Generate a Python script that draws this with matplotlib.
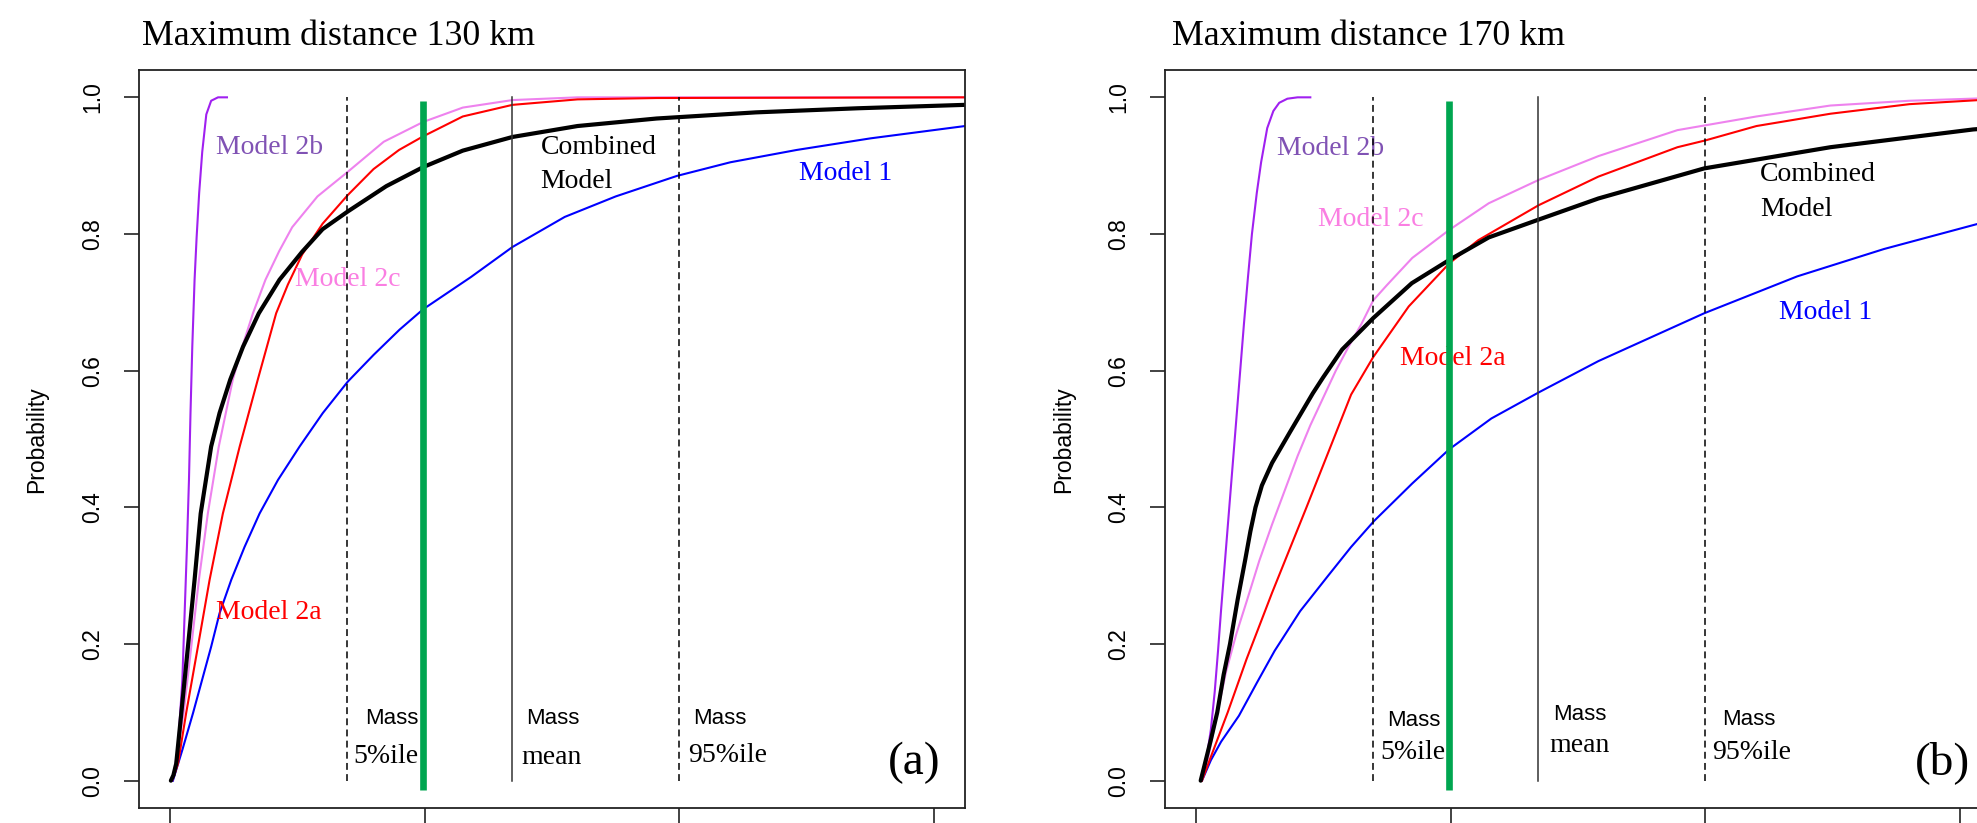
import matplotlib
matplotlib.use("Agg")
import matplotlib.pyplot as plt

# ---------------- data ----------------
titles = ["Maximum distance 130 km", "Maximum distance 170 km"]
panel_tags = ["(a)", "(b)"]
x_ticks = [0, 1, 2, 3]
y_ticks = [0.0, 0.2, 0.4, 0.6, 0.8, 1.0]
y_tick_labels = ["0.0", "0.2", "0.4", "0.6", "0.8", "1.0"]

mass_p05 = 0.697
mass_mean = 1.345
mass_p95 = 2.0
green_x = 0.995

# Panel (a): 130 km
a_m1_x = [0.013, 0.05, 0.092, 0.163, 0.196, 0.242, 0.294, 0.353, 0.425, 0.51, 0.601, 0.699, 0.80, 0.902, 0.995, 1.182, 1.345, 1.55, 1.75, 1.99, 2.2, 2.46, 2.75, 3.12]
a_m1_y = [0.0, 0.045, 0.099, 0.196, 0.245, 0.294, 0.342, 0.391, 0.44, 0.489, 0.538, 0.584, 0.623, 0.66, 0.69, 0.737, 0.781, 0.825, 0.855, 0.885, 0.905, 0.923, 0.94, 0.958]

a_m2a_x = [0.01, 0.02, 0.033, 0.065, 0.111, 0.157, 0.209, 0.275, 0.346, 0.418, 0.464, 0.52, 0.6, 0.699, 0.8, 0.9, 0.995, 1.15, 1.345, 1.6, 1.91, 3.12]
a_m2a_y = [0.0, 0.01, 0.025, 0.099, 0.196, 0.294, 0.391, 0.489, 0.587, 0.684, 0.726, 0.77, 0.815, 0.857, 0.895, 0.923, 0.943, 0.972, 0.989, 0.997, 0.999, 1.0]

a_m2b_x = [0.01, 0.025, 0.033, 0.05, 0.059, 0.068, 0.076, 0.082, 0.089, 0.098, 0.106, 0.116, 0.128, 0.144, 0.163, 0.19, 0.225]
a_m2b_y = [0.0, 0.02, 0.05, 0.147, 0.245, 0.342, 0.44, 0.538, 0.635, 0.733, 0.795, 0.86, 0.92, 0.975, 0.995, 1.0, 1.0]

a_m2c_x = [0.01, 0.025, 0.04, 0.055, 0.085, 0.115, 0.15, 0.193, 0.248, 0.285, 0.327, 0.376, 0.43, 0.481, 0.58, 0.699, 0.84, 0.995, 1.15, 1.345, 1.6, 3.12]
a_m2c_y = [0.0, 0.03, 0.065, 0.099, 0.196, 0.294, 0.391, 0.489, 0.587, 0.635, 0.684, 0.733, 0.775, 0.81, 0.855, 0.891, 0.935, 0.964, 0.985, 0.996, 1.0, 1.0]

a_comb_x = [0.005, 0.015, 0.026, 0.046, 0.072, 0.098, 0.122, 0.163, 0.196, 0.238, 0.288, 0.35, 0.431, 0.52, 0.6, 0.699, 0.85, 0.995, 1.15, 1.345, 1.6, 1.91, 2.3, 2.7, 3.12]
a_comb_y = [0.0, 0.008, 0.025, 0.099, 0.196, 0.294, 0.391, 0.489, 0.538, 0.587, 0.635, 0.684, 0.733, 0.774, 0.807, 0.833, 0.87, 0.898, 0.922, 0.942, 0.958, 0.969, 0.978, 0.984, 0.989]

# Panel (b): 170 km
b_m1_x = [0.025, 0.06, 0.10, 0.17, 0.24, 0.31, 0.41, 0.52, 0.61, 0.70, 0.85, 0.995, 1.16, 1.345, 1.58, 1.995, 2.36, 2.7, 3.05, 3.12]
b_m1_y = [0.0, 0.03, 0.057, 0.095, 0.143, 0.19, 0.248, 0.3, 0.342, 0.38, 0.435, 0.485, 0.53, 0.568, 0.614, 0.684, 0.738, 0.778, 0.813, 0.82]

b_m2a_x = [0.025, 0.06, 0.126, 0.2, 0.3, 0.435, 0.52, 0.61, 0.697, 0.836, 0.995, 1.109, 1.345, 1.58, 1.89, 2.0, 2.2, 2.49, 2.8, 3.12]
b_m2a_y = [0.0, 0.035, 0.1, 0.178, 0.275, 0.40, 0.48, 0.565, 0.62, 0.694, 0.757, 0.791, 0.842, 0.884, 0.927, 0.937, 0.958, 0.976, 0.99, 0.997]

b_m2b_x = [0.022, 0.04, 0.06, 0.075, 0.088, 0.10, 0.115, 0.13, 0.145, 0.16, 0.175, 0.19, 0.205, 0.221, 0.24, 0.257, 0.281, 0.305, 0.328, 0.36, 0.40, 0.45]
b_m2b_y = [0.0, 0.025, 0.075, 0.13, 0.19, 0.25, 0.32, 0.39, 0.46, 0.53, 0.6, 0.67, 0.735, 0.8, 0.86, 0.905, 0.955, 0.98, 0.992, 0.998, 1.0, 1.0]

b_m2c_x = [0.025, 0.05, 0.08, 0.12, 0.16, 0.2, 0.25, 0.3, 0.35, 0.4, 0.45, 0.5, 0.55, 0.6, 0.65, 0.697, 0.75, 0.85, 0.995, 1.15, 1.345, 1.58, 1.89, 2.2, 2.49, 2.8, 3.12]
b_m2c_y = [0.0, 0.035, 0.09, 0.16, 0.215, 0.262, 0.322, 0.375, 0.425, 0.475, 0.52, 0.56, 0.6, 0.635, 0.668, 0.703, 0.725, 0.765, 0.806, 0.845, 0.879, 0.914, 0.952, 0.972, 0.988, 0.995, 0.999]

b_comb_x = [0.02, 0.04, 0.06, 0.085, 0.11, 0.135, 0.165, 0.195, 0.215, 0.235, 0.26, 0.3, 0.37, 0.46, 0.5, 0.575, 0.697, 0.848, 0.995, 1.15, 1.345, 1.58, 1.995, 2.49, 3.05, 3.12]
b_comb_y = [0.0, 0.03, 0.06, 0.1, 0.155, 0.2, 0.265, 0.324, 0.365, 0.4, 0.432, 0.465, 0.51, 0.567, 0.59, 0.631, 0.677, 0.728, 0.762, 0.795, 0.821, 0.852, 0.896, 0.927, 0.953, 0.955]

# label anchors (data coords, left edge / baseline)
a_labels = [("Model 2b", 0.183, 0.917), ("Model 2c", 0.49, 0.724), ("Model 2a", 0.183, 0.236),
            ("Model 1", 2.47, 0.879), ("Combined", 1.455, 0.917), ("Model", 1.455, 0.867)]
b_labels = [("Model 2b", 0.32, 0.916), ("Model 2c", 0.48, 0.812), ("Model 2a", 0.80, 0.609),
            ("Model 1", 2.29, 0.676), ("Combined", 2.215, 0.877), ("Model", 2.215, 0.826)]
label_colors = {"Model 2b": "#8052B4", "Model 2c": "#FA7EE2", "Model 2a": "#FF0000",
                "Model 1": "#0000FF", "Combined": "#000000", "Model": "#000000"}

a_mass = [(0.871, 0.083, 0.85, 0.026, "5%ile"), (1.503, 0.083, 1.50, 0.025, "mean"), (2.16, 0.083, 2.19, 0.027, "95%ile")]
b_mass = [(0.855, 0.080, 0.852, 0.032, "5%ile"), (1.507, 0.089, 1.507, 0.042, "mean"), (2.17, 0.082, 2.18, 0.032, "95%ile")]
tag_pos = [(2.92, 0.009), (2.93, 0.009)]

# ---------------- styling ----------------
SERIF = "Liberation Serif"
SANS = "Liberation Sans"
col_m1 = "#0000FF"
col_m2a = "#FF0000"
col_m2b = "#A020F0"
col_m2c = "#EE82EE"
col_green = "#00A650"

W, H = 1977, 823
fig = plt.figure(figsize=(W / 100, H / 100), dpi=100)

lefts = [139, 1165]
panels = [
    dict(m1=(a_m1_x, a_m1_y), m2a=(a_m2a_x, a_m2a_y), m2b=(a_m2b_x, a_m2b_y),
         m2c=(a_m2c_x, a_m2c_y), comb=(a_comb_x, a_comb_y), labels=a_labels, mass=a_mass),
    dict(m1=(b_m1_x, b_m1_y), m2a=(b_m2a_x, b_m2a_y), m2b=(b_m2b_x, b_m2b_y),
         m2c=(b_m2c_x, b_m2c_y), comb=(b_comb_x, b_comb_y), labels=b_labels, mass=b_mass),
]

for i, p in enumerate(panels):
    ax = fig.add_axes([lefts[i] / W, (H - 808) / H, 826 / W, 738 / H])
    ax.set_xlim(-0.12, 3.12)
    ax.set_ylim(-0.04, 1.04)
    for s in ax.spines.values():
        s.set_linewidth(1.3)
        s.set_color("#222222")
    ax.set_xticks(x_ticks)
    ax.set_yticks(y_ticks)
    ax.set_yticklabels(y_tick_labels, rotation=90, va="center", fontfamily=SANS, fontsize=16.5)
    ax.tick_params(axis="x", direction="out", length=13, width=1.2, color="#222222", labelbottom=False)
    ax.tick_params(axis="y", direction="out", length=10.8, width=1.2, color="#222222", pad=14)

    ax.plot(*p["m1"], color=col_m1, lw=1.5, zorder=2)
    ax.plot(*p["m2c"], color=col_m2c, lw=1.5, zorder=2)
    ax.plot(*p["m2a"], color=col_m2a, lw=1.5, zorder=2)
    ax.plot(*p["m2b"], color=col_m2b, lw=1.5, zorder=2)
    ax.plot(*p["comb"], color="black", lw=3.0, zorder=2.5, solid_capstyle="round")

    for name, lx, ly in p["labels"]:
        ax.text(lx, ly, name, color=label_colors[name], fontfamily=SERIF, fontsize=20,
                ha="left", va="baseline", zorder=3)

    for mx, my, sx, sy, s2 in p["mass"]:
        ax.text(mx, my, "Mass", fontfamily=SANS, fontsize=16, ha="center", va="baseline", zorder=3)
        ax.text(sx, sy, s2, fontfamily=SERIF, fontsize=20, ha="center", va="baseline", zorder=3)

    tx, ty = tag_pos[i]
    ax.text(tx, ty, panel_tags[i], fontfamily=SERIF, fontsize=34, ha="center", va="baseline", zorder=3)

    ax.plot([mass_p05, mass_p05], [0, 1], color="black", lw=1.1, ls=(0, (4.5, 2.8)), zorder=4)
    ax.plot([mass_p95, mass_p95], [0, 1], color="black", lw=1.1, ls=(0, (4.5, 2.8)), zorder=4)
    ax.plot([mass_mean, mass_mean], [0, 1], color="#333333", lw=1.1, zorder=4)
    ax.plot([green_x, green_x], [-0.013, 0.995], color=col_green, lw=4.8, zorder=5, solid_capstyle="butt")

# titles and y labels as figure text
fig.text(142 / W, 1 - 45 / H, titles[0], fontfamily=SERIF, fontsize=25.8, ha="left", va="baseline")
fig.text(1172 / W, 1 - 45 / H, titles[1], fontfamily=SERIF, fontsize=25.8, ha="left", va="baseline")
for xc in (37, 1064):
    fig.text(xc / W, 1 - 440 / H, "Probability", fontfamily=SANS, fontsize=16.5,
             rotation=90, ha="center", va="center")

fig.savefig("out.png", dpi=100)
